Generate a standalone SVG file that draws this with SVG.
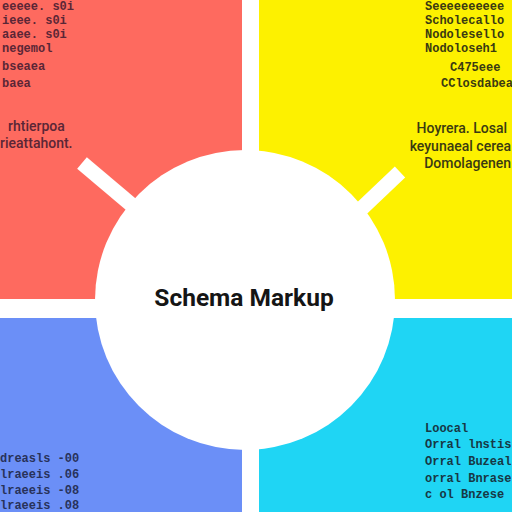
<svg xmlns="http://www.w3.org/2000/svg" width="512" height="512" viewBox="0 0 512 512">
<style>
.mono{font-family:"Liberation Mono","DejaVu Sans Mono",monospace;font-size:12px;font-weight:bold}
.sans{font-family:Roboto,"Liberation Sans",Arial,sans-serif;font-size:14px;font-weight:500}
.r{fill:#5a2636}.y{fill:#3a3a12}.b{fill:#28325a}.c{fill:#173845}
</style>
<rect width="512" height="512" fill="#ffffff"/>
<g id="quadrants">
<rect id="q-red" x="0" y="0" width="242" height="299" fill="#fe6a5f"/>
<rect id="q-yellow" x="259" y="0" width="253" height="299" fill="#fdf100"/>
<rect id="q-blue" x="0" y="318" width="242" height="194" fill="#6b8ff7"/>
<rect id="q-cyan" x="259" y="318" width="253" height="194" fill="#1fd5f4"/>
</g>
<g id="connectors" stroke="#ffffff" stroke-width="15" fill="none">
<line x1="82" y1="163" x2="140" y2="212"/>
<line x1="400" y1="172" x2="360" y2="210"/>
</g>
<g id="center">
<circle cx="245" cy="300" r="150" fill="#ffffff"/>
<text x="244" y="306" text-anchor="middle" font-family="Roboto,Liberation Sans,Arial,sans-serif" font-weight="bold" font-size="24.5" fill="#151515">Schema Markup</text>
</g>
<g id="text-red" class="mono r">
<text x="2" y="10">eeeee. s0i</text>
<text x="2" y="24">ieee. s0i</text>
<text x="2" y="38">aaee. s0i</text>
<text x="2" y="52">negemol</text>
<text x="2" y="70">bseaea</text>
<text x="2" y="87">baea</text>
<text class="sans r" x="8" y="131">rhtierpoa</text>
<text class="sans r" x="0" y="148">rieattahont.</text>
</g>
<g id="text-yellow" class="mono y">
<text x="425" y="10">Seeeeeeeeee</text>
<text x="425" y="24">Scholecallo</text>
<text x="425" y="38">Nodolesello</text>
<text x="425" y="52">Nodoloseh1</text>
<text x="450" y="71">C475eee</text>
<text x="441" y="87">CClosdabea</text>
<text class="sans y" x="507" y="133" text-anchor="end">Hoyrera. Losal</text>
<text class="sans y" x="511" y="151" text-anchor="end">keyunaeal cerea</text>
<text class="sans y" x="511" y="168" text-anchor="end">Domolagenen</text>
</g>
<g id="text-blue" class="mono b">
<text x="0" y="462">dreasls -00</text>
<text x="0" y="478">lraeeis .06</text>
<text x="0" y="494">lraeeis -08</text>
<text x="0" y="509">lraeeis .08</text>
</g>
<g id="text-cyan" class="mono c">
<text x="425" y="432">Loocal</text>
<text x="425" y="448">Orral lnstis</text>
<text x="425" y="465">Orral Buzeal</text>
<text x="425" y="482">orral Bnrase</text>
<text x="425" y="498">c  ol Bnzese</text>
</g>
</svg>
